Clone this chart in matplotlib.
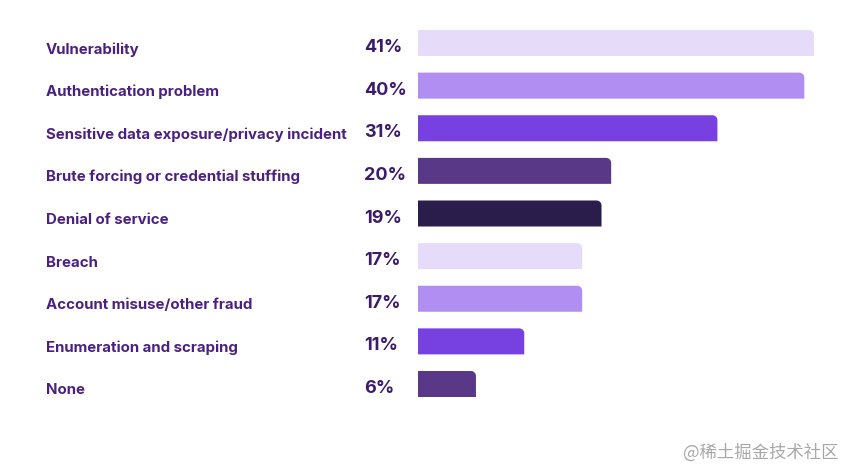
import matplotlib
matplotlib.use("Agg")
import matplotlib.pyplot as plt
from matplotlib.patches import Polygon
from matplotlib import transforms
import numpy as np

categories = ["Vulnerability", "Authentication problem", "Sensitive data exposure/privacy incident",
              "Brute forcing or credential stuffing", "Denial of service", "Breach",
              "Account misuse/other fraud", "Enumeration and scraping", "None"]
values = [41, 40, 31, 20, 19, 17, 17, 11, 6]
colors = ["#E6DCFA", "#B08EF2", "#7740E0", "#5A3888", "#2A1D4C",
          "#E6DCFA", "#B08EF2", "#7740E0", "#5A3888"]

W, H = 844, 469
fig = plt.figure(figsize=(W/100, H/100), dpi=100)
ax = fig.add_axes([418/W, (H-397)/H, 396/W, 367/H])
bar_h = 0.61
ax.set_xlim(0, 41)
ax.set_ylim(len(categories)-1+bar_h/2, -bar_h/2)
ax.axis("off")

px_x = 396/41
px_y = 367/(len(categories)-1+bar_h)
r = 5.0
rx, ry = r/px_x, r/px_y
theta = np.linspace(0, np.pi/2, 12)
for i, (v, c) in enumerate(zip(values, colors)):
    top = i - bar_h/2
    bot = i + bar_h/2
    cx, cy = v - rx, top + ry
    arc = [(cx + rx*np.sin(t), cy - ry*np.cos(t)) for t in theta]
    pts = [(0, bot), (0, top)] + arc + [(v, bot)]
    ax.add_patch(Polygon(pts, closed=True, facecolor=c, edgecolor="none"))

tr = transforms.blended_transform_factory(fig.transFigure, ax.transData)
off_cat = 10.5/px_y
off_pct = 9/px_y
for i, (cat, v) in enumerate(zip(categories, values)):
    ax.text(46/W, i+off_cat, cat, transform=tr, ha="left", va="baseline",
            fontsize=10.8, fontweight="bold", family="Inter", color="#4B2180")
    ax.text(364/W, i+off_pct, f"{v}%", transform=tr, ha="left", va="baseline",
            fontsize=13, fontweight="bold", family="Inter", color="#3C1B6B")

fig.text(838/W, 1-458/H, "@稀土掘金技术社区", ha="right", va="baseline",
         fontsize=12.5, color="#A8A8A8", family=["Noto Sans CJK SC", "DejaVu Sans"])

fig.savefig("out.png", dpi=100)
